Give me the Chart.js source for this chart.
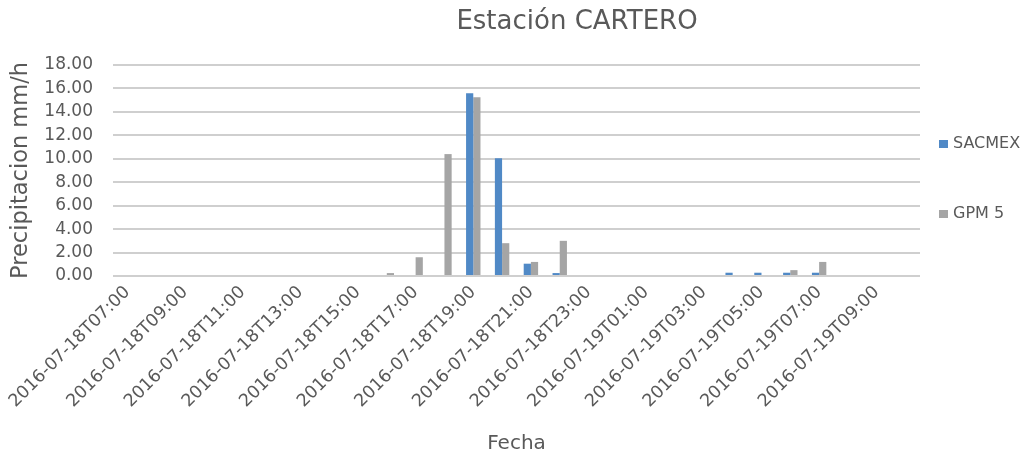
<!DOCTYPE html>
<html>
<head>
<meta charset="utf-8">
<script src="https://cdn.jsdelivr.net/npm/chart.js@4.4.0/dist/chart.umd.min.js"></script>
<style>
  html, body { margin: 0; padding: 0; background: #ffffff; }
  #wrap { width: 1025px; height: 460px; }
</style>
</head>
<body>
<div id="wrap"><canvas id="c" width="1025" height="460"></canvas></div>
<script>
// Hourly categories, 2016-07-18 07:00 to 2016-07-19 10:00
const categories = [
  '2016-07-18T07:00', '2016-07-18T08:00', '2016-07-18T09:00', '2016-07-18T10:00',
  '2016-07-18T11:00', '2016-07-18T12:00', '2016-07-18T13:00', '2016-07-18T14:00',
  '2016-07-18T15:00', '2016-07-18T16:00', '2016-07-18T17:00', '2016-07-18T18:00',
  '2016-07-18T19:00', '2016-07-18T20:00', '2016-07-18T21:00', '2016-07-18T22:00',
  '2016-07-18T23:00', '2016-07-19T00:00', '2016-07-19T01:00', '2016-07-19T02:00',
  '2016-07-19T03:00', '2016-07-19T04:00', '2016-07-19T05:00', '2016-07-19T06:00',
  '2016-07-19T07:00', '2016-07-19T08:00', '2016-07-19T09:00', '2016-07-19T10:00'
];

// Precipitation, mm/h
const sacmex = [
  0, 0, 0, 0, 0, 0, 0, 0, 0, 0, 0, 0,
  15.6, 10.05, 1.05, 0.25, 0, 0, 0, 0, 0, 0.28, 0.28, 0.28, 0.28, 0, 0, 0
];
const gpm5 = [
  0, 0, 0, 0, 0, 0, 0, 0, 0, 0.25, 1.6, 10.4,
  15.25, 2.8, 1.2, 3.0, 0, 0, 0, 0, 0, 0, 0, 0.5, 1.2, 0, 0, 0
];

const seriesNames = ['SACMEX', 'GPM 5'];
const chartTitle = 'Estación CARTERO';
const yTitle = 'Precipitacion mm/h';
const xTitle = 'Fecha';

const TEXT = '#595959';
const FONT = '"DejaVu Sans", sans-serif';

// Chart heading, placed over the plot
const headingPlugin = {
  id: 'heading',
  afterDraw(chart) {
    const ctx = chart.ctx;
    ctx.save();
    ctx.font = '26px ' + FONT;
    ctx.fillStyle = TEXT;
    ctx.textAlign = 'center';
    ctx.textBaseline = 'middle';
    ctx.fillText(chartTitle, 577, 22);
    ctx.restore();
  }
};

// Vertical legend on the right side
const sideLegendPlugin = {
  id: 'sideLegend',
  afterDraw(chart) {
    const ctx = chart.ctx;
    const x0 = chart.chartArea.right + 19;
    const rows = [144, 214];
    ctx.save();
    ctx.font = '16px ' + FONT;
    ctx.textBaseline = 'middle';
    ctx.textAlign = 'left';
    chart.data.datasets.forEach((ds, i) => {
      const y = rows[i];
      ctx.fillStyle = ds.backgroundColor;
      ctx.fillRect(x0, y - 4, 9, 8);
      ctx.fillStyle = TEXT;
      ctx.fillText(ds.label, x0 + 14, y);
    });
    ctx.restore();
  }
};

new Chart(document.getElementById('c'), {
  type: 'bar',
  data: {
    labels: categories,
    datasets: [
      { label: seriesNames[0], data: sacmex, backgroundColor: '#5089C6',
        categoryPercentage: 0.5, barPercentage: 1.0 },
      { label: seriesNames[1], data: gpm5, backgroundColor: '#A5A5A5',
        categoryPercentage: 0.5, barPercentage: 1.0 }
    ]
  },
  options: {
    responsive: false,
    animation: false,
    devicePixelRatio: 1,
    layout: { padding: { top: 65, right: 105, bottom: 0, left: 0 } },
    plugins: {
      legend: { display: false },
      title: { display: false },
      tooltip: { enabled: false }
    },
    scales: {
      x: {
        grid: { display: false, drawTicks: false },
        border: { display: false },
        ticks: {
          autoSkip: false,
          minRotation: 45,
          maxRotation: 45,
          padding: 6,
          color: TEXT,
          font: { family: FONT, size: 17.5 },
          callback(value, index) {
            return index % 2 === 0 ? categories[index] : '';
          }
        },
        title: {
          display: true,
          text: xTitle,
          color: TEXT,
          font: { family: FONT, size: 20 },
          padding: { top: 0, bottom: 4 }
        },
        afterFit(scale) { scale.height = 184; }
      },
      y: {
        min: 0,
        max: 18,
        grid: { color: '#cfcfcf', lineWidth: 2, drawTicks: false },
        border: { display: false },
        ticks: {
          stepSize: 2,
          padding: 20,
          color: TEXT,
          font: { family: FONT, size: 17 },
          callback(value) { return Number(value).toFixed(2); }
        },
        title: {
          display: true,
          text: yTitle,
          color: TEXT,
          font: { family: FONT, size: 22.5 },
          padding: { top: 8, bottom: 0 }
        },
        afterFit(scale) { scale.width = 113; }
      }
    }
  },
  plugins: [headingPlugin, sideLegendPlugin]
});
</script>
</body>
</html>
